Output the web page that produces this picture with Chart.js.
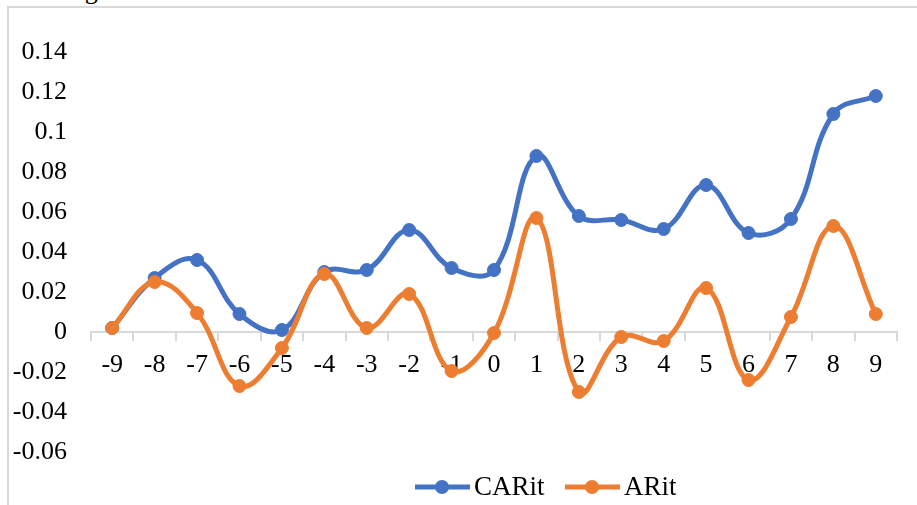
<!DOCTYPE html>
<html>
<head>
<meta charset="utf-8">
<script src="https://cdn.jsdelivr.net/npm/chart.js@4"></script>
<style>
  html, body { margin: 0; padding: 0; width: 917px; height: 505px; overflow: hidden; background: #fff; }
  #frame { position: absolute; left: 7px; top: 6px; width: 930px; height: 520px; border-left: 2px solid #d9d9d9; border-top: 2px solid #d9d9d9; }
  #cut { position: absolute; left: 43px; top: -22px; font-family: "Liberation Serif", serif; font-size: 26px; line-height: 26px; color: #000; white-space: nowrap; }
  #wrap { position: absolute; left: 0; top: 0; width: 917px; height: 505px; }
</style>
</head>
<body>
<div id="cut">categories.</div>
<div id="frame"></div>
<div id="wrap"><canvas id="c" width="917" height="505"></canvas></div>
<script>
const categories = ["-9","-8","-7","-6","-5","-4","-3","-2","-1","0","1","2","3","4","5","6","7","8","9"];
const carit = [0.002, 0.027, 0.036, 0.009, 0.001, 0.030, 0.031, 0.051, 0.032, 0.031, 0.088, 0.058, 0.056, 0.0515, 0.0735, 0.0495, 0.0565, 0.109, 0.118];
const arit  = [0.002, 0.025, 0.0095, -0.027, -0.008, 0.029, 0.002, 0.019, -0.0195, -0.0005, 0.057, -0.030, -0.0025, -0.0045, 0.022, -0.024, 0.0075, 0.053, 0.009];
const yTicks = [-0.06, -0.04, -0.02, 0, 0.02, 0.04, 0.06, 0.08, 0.1, 0.12, 0.14];
const seriesNames = ["CARit", "ARit"];

const BLUE = "#4472C4";
const ORANGE = "#ED7D31";
const FONT = "Liberation Serif";

const legendPlugin = {
  id: "lineLegend",
  afterDraw(chart) {
    const ctx = chart.ctx;
    const y = 487;
    const items = [
      { name: seriesNames[0], color: BLUE, x0: 415 },
      { name: seriesNames[1], color: ORANGE, x0: 565 }
    ];
    ctx.save();
    items.forEach(it => {
      ctx.strokeStyle = it.color;
      ctx.lineWidth = 5;
      ctx.lineCap = "butt";
      ctx.beginPath();
      ctx.moveTo(it.x0, y);
      ctx.lineTo(it.x0 + 55, y);
      ctx.stroke();
      ctx.fillStyle = it.color;
      ctx.beginPath();
      ctx.arc(it.x0 + 27, y, 7, 0, Math.PI * 2);
      ctx.fill();
      ctx.fillStyle = "#000";
      ctx.font = "27px '" + FONT + "'";
      ctx.textBaseline = "middle";
      ctx.textAlign = "left";
      ctx.fillText(it.name, it.x0 + 59, y + 1);
    });
    ctx.restore();
  }
};

new Chart(document.getElementById("c"), {
  type: "line",
  data: {
    labels: categories,
    datasets: [
      {
        label: seriesNames[0], data: carit, borderColor: BLUE, backgroundColor: BLUE,
        borderWidth: 5, tension: 0.4, pointRadius: 6.5, pointBorderWidth: 1,
        pointBackgroundColor: BLUE, pointBorderColor: BLUE, order: 1
      },
      {
        label: seriesNames[1], data: arit, borderColor: ORANGE, backgroundColor: ORANGE,
        borderWidth: 5, tension: 0.4, pointRadius: 6.5, pointBorderWidth: 1,
        pointBackgroundColor: ORANGE, pointBorderColor: ORANGE, order: 0
      }
    ]
  },
  options: {
    responsive: false,
    animation: false,
    devicePixelRatio: 1,
    layout: { padding: { left: 13, right: 20, top: 52, bottom: 53 } },
    plugins: { legend: { display: false }, tooltip: { enabled: false } },
    scales: {
      x: {
        position: { y: 0 },
        offset: true,
        grid: { display: true, drawOnChartArea: false, drawTicks: true, tickLength: 8, color: "#d9d9d9", lineWidth: 2, offset: true },
        border: { display: true, color: "#d9d9d9", width: 2 },
        ticks: { color: "#000", font: { family: FONT, size: 26 }, padding: 10, maxRotation: 0, autoSkip: false }
      },
      y: {
        min: -0.06, max: 0.14,
        afterBuildTicks(axis) { axis.ticks = yTicks.map(v => ({ value: v })); },
        afterFit(axis) { axis.width = 78; },
        grid: { display: false, drawTicks: false },
        border: { display: false },
        ticks: {
          color: "#000", font: { family: FONT, size: 26 }, padding: 24,
          callback: v => String(Math.round(v * 100) / 100)
        }
      }
    }
  },
  plugins: [legendPlugin]
});
</script>
</body>
</html>
